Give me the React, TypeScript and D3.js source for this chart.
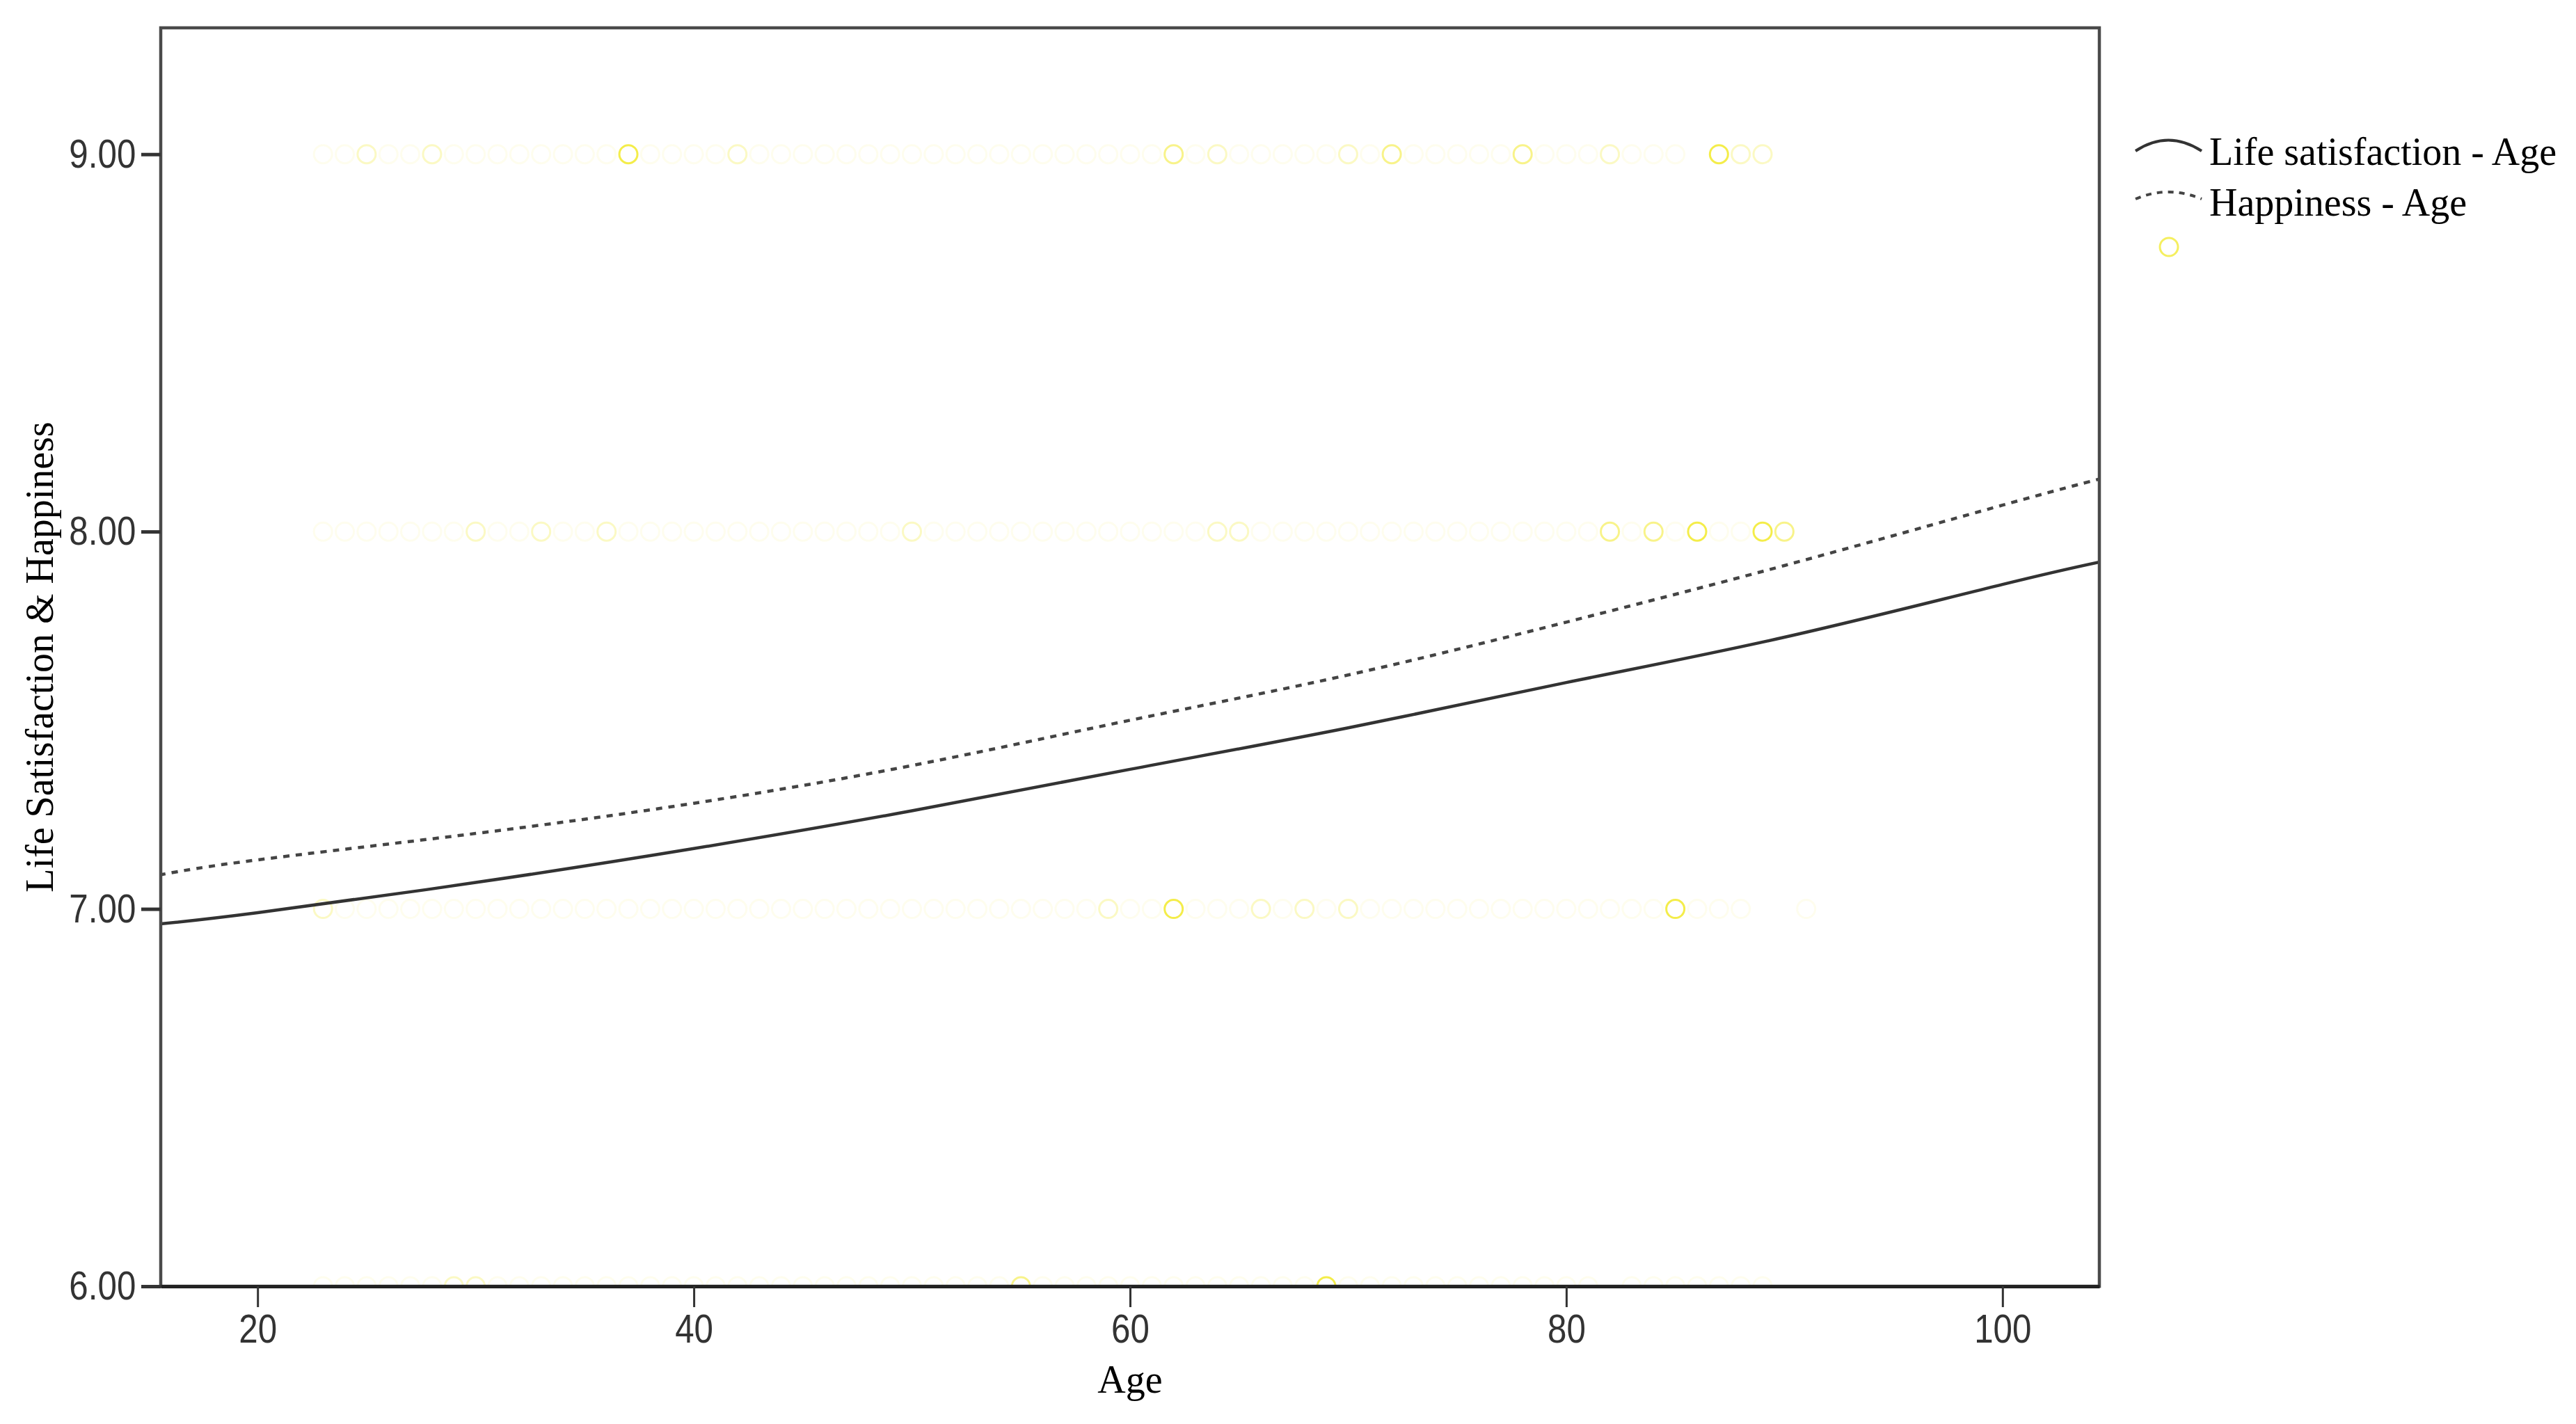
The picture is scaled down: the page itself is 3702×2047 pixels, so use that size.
import React, { useEffect, useRef } from "react";
import * as d3 from "d3";

// fitted curves
const curveAges = [15.5, 20, 30, 40, 50, 60, 70, 80, 90, 100, 104.5];
const lifeSatFit = [6.96, 6.99, 7.07, 7.16, 7.26, 7.37, 7.48, 7.6, 7.72, 7.86, 7.92];
const happinessFit = [7.09, 7.13, 7.2, 7.28, 7.38, 7.5, 7.62, 7.76, 7.91, 8.07, 8.14];

// observed points per score level (age, how many cases overlap)
const row9Ages = d3.range(23, 86).concat([87, 88, 89]);
const row9Bright = { 25: 2, 28: 2, 37: 4, 42: 2, 62: 3, 64: 2, 70: 2, 72: 3, 78: 3, 82: 2, 87: 4, 88: 2, 89: 2 };
const row8Ages = d3.range(23, 91);
const row8Bright = { 30: 2, 33: 2, 36: 2, 50: 2, 64: 2, 65: 2, 82: 3, 84: 3, 86: 4, 89: 4, 90: 3 };
const row7Ages = d3.range(23, 89).concat([91]);
const row7Bright = { 23: 2, 59: 2, 62: 4, 66: 2, 68: 2, 70: 2, 85: 4 };
const row6Ages = d3.range(23, 82).concat(d3.range(83, 90));
const row6Bright = { 29: 2, 30: 2, 55: 3, 69: 4 };

const yTicks = [6, 7, 8, 9];
const xTicks = [20, 40, 60, 80, 100];

const W = 3702;
const H = 2047;
const left = 231, right = 3017, top = 40, bottom = 1849;
const opacityByCount = [0, 0.08, 0.28, 0.55, 0.85];

export default function App() {
  const ref = useRef(null);

  useEffect(() => {
    const svg = d3.select(ref.current);
    svg.selectAll("*").remove();

    const x = d3.scaleLinear().domain([15.56, 104.44]).range([left, right]);
    const y = d3.scaleLinear().domain([6, 9.335]).range([bottom, top]);

    svg.append("defs").append("clipPath").attr("id", "plotclip")
      .append("rect").attr("x", left).attr("y", top).attr("width", right - left).attr("height", bottom - top);

    // scatter points
    const rows = [
      { v: 9, ages: row9Ages, bright: row9Bright },
      { v: 8, ages: row8Ages, bright: row8Bright },
      { v: 7, ages: row7Ages, bright: row7Bright },
      { v: 6, ages: row6Ages, bright: row6Bright },
    ];
    const pts = svg.append("g").attr("clip-path", "url(#plotclip)");
    rows.forEach((r) => {
      pts.selectAll(null)
        .data(r.ages)
        .enter()
        .append("circle")
        .attr("cx", (d) => x(d))
        .attr("cy", y(r.v))
        .attr("r", 13)
        .attr("fill", "none")
        .attr("stroke", "#f2ea2a")
        .attr("stroke-width", 3)
        .attr("stroke-opacity", (d) => opacityByCount[r.bright[d] || 1]);
    });

    // fit lines
    const line = d3.line()
      .x((d) => x(d[0]))
      .y((d) => y(d[1]))
      .curve(d3.curveNatural);
    const lg = svg.append("g").attr("clip-path", "url(#plotclip)");
    lg.append("path")
      .attr("d", line(curveAges.map((a, i) => [a, lifeSatFit[i]])))
      .attr("fill", "none")
      .attr("stroke", "#333")
      .attr("stroke-width", 4.5);
    lg.append("path")
      .attr("d", line(curveAges.map((a, i) => [a, happinessFit[i]])))
      .attr("fill", "none")
      .attr("stroke", "#444")
      .attr("stroke-width", 4.5)
      .attr("stroke-dasharray", "9,9");

    // frame
    svg.append("rect")
      .attr("x", left).attr("y", top)
      .attr("width", right - left).attr("height", bottom - top)
      .attr("fill", "none")
      .attr("stroke", "#4a4a4a")
      .attr("stroke-width", 4.5);

    // axes
    const tickFont = "'Liberation Sans Narrow', 'Arial Narrow', 'Liberation Sans', sans-serif";
    const yAxis = svg.append("g")
      .attr("transform", `translate(${left},0)`)
      .call(d3.axisLeft(y).tickValues(yTicks).tickFormat(d3.format(".2f")).tickSize(28).tickSizeOuter(0));
    yAxis.select(".domain").remove();
    yAxis.selectAll(".tick line").attr("stroke", "#333").attr("stroke-width", 5);
    yAxis.selectAll(".tick text")
      .attr("x", -42)
      .attr("transform", "scale(0.85,1)")
      .attr("fill", "#333")
      .style("font-family", tickFont)
      .style("font-size", "58px");

    const xAxis = svg.append("g")
      .attr("transform", `translate(0,${bottom})`)
      .call(d3.axisBottom(x).tickValues(xTicks).tickSize(30).tickSizeOuter(0));
    xAxis.select(".domain").attr("stroke", "#222").attr("stroke-width", 5);
    xAxis.selectAll(".tick line").attr("stroke", "#333").attr("stroke-width", 3);
    xAxis.selectAll(".tick text")
      .attr("y", 40)
      .attr("transform", "scale(0.85,1)")
      .attr("fill", "#333")
      .style("font-family", tickFont)
      .style("font-size", "58px");

    const serif = "'Liberation Serif', 'Times New Roman', serif";
    svg.append("text")
      .attr("x", (left + right) / 2)
      .attr("y", 2002)
      .attr("text-anchor", "middle")
      .style("font-family", serif)
      .style("font-size", "56px")
      .text("Age");
    svg.append("text")
      .attr("transform", `translate(76,${(top + bottom) / 2}) rotate(-90)`)
      .attr("text-anchor", "middle")
      .style("font-family", serif)
      .style("font-size", "56px")
      .text("Life Satisfaction & Happiness");

    // legend
    const leg = svg.append("g");
    leg.append("path")
      .attr("d", "M3069,217 Q3116,186 3164,217")
      .attr("fill", "none").attr("stroke", "#333").attr("stroke-width", 4);
    leg.append("path")
      .attr("d", "M3069,286 Q3116,266 3164,286")
      .attr("fill", "none").attr("stroke", "#444").attr("stroke-width", 4)
      .attr("stroke-dasharray", "8,8");
    leg.append("circle")
      .attr("cx", 3117).attr("cy", 355).attr("r", 13)
      .attr("fill", "none").attr("stroke", "#f2ea2a").attr("stroke-opacity", 0.75).attr("stroke-width", 3);
    leg.selectAll("text")
      .data(["Life satisfaction - Age", "Happiness - Age"])
      .enter()
      .append("text")
      .attr("x", 3175)
      .attr("y", (d, i) => 237 + i * 73)
      .style("font-family", serif)
      .style("font-size", "56px")
      .text((d) => d);
  }, []);

  return (
    <svg
      ref={ref}
      width={W}
      height={H}
      style={{ position: "absolute", left: 0, top: 0, background: "#fff" }}
    />
  );
}
